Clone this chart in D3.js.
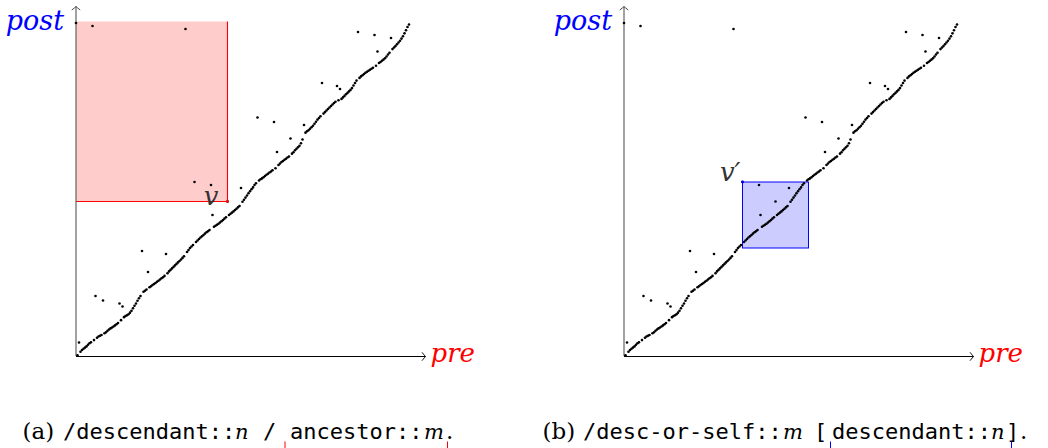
<!DOCTYPE html>
<html>
<head>
<meta charset="utf-8">
<script src="https://cdn.jsdelivr.net/npm/d3@7"></script>
<style>
  html, body { margin: 0; padding: 0; background: #fff; }
  svg { display: block; }
</style>
</head>
<body>
<svg id="chart" width="1048" height="448"></svg>
<script>
// ---------- DATA (pre/post ranks of the document nodes) ----------
// nodes lying along the diagonal (pre, post)
const diagPre = [1,3,4,5,6,7,8,9,10,12,14,15,16,17,19,20,21,22,23,24,25,26,27,28,30,32,33,34,35,36,37,38,39,40,41,42,43,45,46,47,49,50,51,52,53,54,55,56,57,58,59,61,62,63,64,65,66,67,68,69,70,71,72,74,75,76,77,78,80,81,82,83,84,85,86,87,88,89,92,93,94,95,96,97,98,99,100,102,103,104,105,106,107,108,109,111,112,113,114,115,116,117,118,119,120,122,123,124,125,126,127,128,129,130,131,133,135,136,137,138,139,140,141,142,144,145,146,147,148,149,150,151,153,154,155,156,157,158,159,160,161,162,163,165,166,167,168,169,170,171,172,173,175,177,178,179,180,181,182,183,184,185,186,187,189,190,191,192,193,194,195,196,197,198,200,202,203,204,205,206,207,208,209,211,212,213,214,215,216,217,218,219,220,221,222];
const diagPost = [0.5,2.8,4,4.8,5.6,6.4,7.5,8.5,9.2,10.6,12.2,13,13.5,14,15.2,15.8,16.8,17.7,18.4,19,19.7,20.4,21.2,22,23.9,25.9,26.7,27.2,27.8,28.9,30.2,31.8,33.5,35,36.8,38.5,40,42.8,43.5,44.3,45.8,46.5,47.3,48,48.7,49.5,50.2,51,51.8,52.5,53.4,55.2,56.4,57.4,58.4,59.4,60.4,61.4,62.4,63.3,64.3,65.4,66.5,69.3,70.6,72,73,74,76,77,78,79,79.8,80.7,81.6,82.5,83.2,84,86.2,86.8,87.5,88.2,89,89.8,90.7,91.6,92.5,94,94.8,95.6,96.4,97.3,98.2,99.1,100,102.8,104.2,105.6,107,108.5,109.8,111.2,112.4,114,115.2,117,117.8,118.4,119.2,120,120.8,121.5,122.3,123,123.8,125.2,127.3,128.3,129.3,130,130.8,131.5,132.3,133,134.9,135.8,137.2,138.2,139.2,140.2,141.8,144.3,148.9,149.8,150.5,151.5,152.5,153.5,154.8,156.2,157.6,158.7,159.8,161.6,162.6,163.7,164.7,165.7,166.7,167.7,168.7,169.5,170.5,171.4,172.4,173.4,174.5,175.4,176.4,177.4,178.6,180.3,182,183.6,185.4,186.4,187.2,188,188.8,189.5,190.2,190.8,191.5,192.2,193.5,195.3,196,196.8,197.6,198.5,199.7,201,202.2,204.6,205.7,206.6,207.8,209,210.2,211.6,213.2,215.1,217.2,219.3,221];
// nodes with larger subtrees (off the diagonal)
const innerPre  = [0,11,73,79,90,91,101,110,121,132,134,143,152,164,174,176,188,199,201,210,44,48,60,13,18,29,31,2];
const innerPost = [222,220,218,116,114,94,103,112,159,156,136,145,154,182,180,178,216,214,203,212,70,56,68,40,37,35,33,9];
// context nodes
const nodeV  = [101, 103];   // v  (panel a)
const nodeV2 = [79, 116];    // v' (panel b)
// query regions: [preFrom, preTo, postFrom, postTo]
const regionA = [0, 101, 103, 223];
const regionB = [79, 123, 72, 116];
const axisMax = 233;
// caption pieces: [text, style]
const captionA = [["(a)","rm"],["/descendant::","tt"],["n","it"],["/","tt"],["ancestor::","tt"],["m","it"],[".","rm"]];
const captionB = [["(b)","rm"],["/desc-or-self::","tt"],["m","it"],["[","tt"],["descendant::","tt"],["n","it"],["]","tt"],[".","rm"]];

// ---------- DRAWING ----------
const SERIF = "'DejaVu Serif', serif";
const MONO = "'DejaVu Sans Mono', monospace";
const svg = d3.select("#chart");
const x = d3.scaleLinear().domain([0, axisMax]).range([76, 425.5]);
const y = d3.scaleLinear().domain([0, axisMax]).range([356, 6.5]);

const diag = diagPre.map((p, i) => [p, diagPost[i]]);
const inner = innerPre.map((p, i) => [p, innerPost[i]]);
const allNodes = diag.concat(inner);

function panel(offset, opts) {
  const g = svg.append("g").attr("transform", `translate(${offset},0)`);
  const r = opts.region;
  g.append("rect")
    .attr("x", x(r[0])).attr("y", y(r[3]))
    .attr("width", x(r[1]) - x(r[0])).attr("height", y(r[2]) - y(r[3]))
    .attr("fill", opts.fill);
  if (opts.fullBorder) {
    g.append("rect")
      .attr("x", x(r[0])).attr("y", y(r[3]))
      .attr("width", x(r[1]) - x(r[0])).attr("height", y(r[2]) - y(r[3]))
      .attr("fill", "none").attr("stroke", opts.stroke).attr("stroke-width", 1);
  } else {
    g.append("path")
      .attr("d", `M${x(r[0])},${y(r[2])}H${x(r[1])}V${y(r[3])}`)
      .attr("fill", "none").attr("stroke", opts.stroke).attr("stroke-width", 1.1);
  }
  // axes
  g.append("line").attr("x1", x(0)).attr("x2", x(0)).attr("y1", y(0)).attr("y2", y(axisMax))
    .attr("stroke", "#555").attr("stroke-width", 1.1);
  g.append("line").attr("x1", x(0)).attr("x2", x(axisMax)).attr("y1", y(0) + 0.5).attr("y2", y(0) + 0.5)
    .attr("stroke", "#000").attr("stroke-width", 1);
  const ax = x(axisMax), ay = y(0) + 0.5;
  g.append("path")
    .attr("d", `M${ax-3.5},${ay-4.2} Q${ax-0.8},${ay-0.8} ${ax},${ay} Q${ax-0.8},${ay+0.8} ${ax-3.5},${ay+4.2}`)
    .attr("fill", "none").attr("stroke", "#000").attr("stroke-width", 0.9);
  const bx = x(0), by = y(axisMax);
  g.append("path")
    .attr("d", `M${bx-4.2},${by+3.5} Q${bx-0.8},${by+0.8} ${bx},${by} Q${bx+0.8},${by+0.8} ${bx+4.2},${by+3.5}`)
    .attr("fill", "none").attr("stroke", "#333").attr("stroke-width", 0.9);
  // axis labels
  g.append("text").attr("x", x(0) - 12).attr("y", 30).attr("text-anchor", "end")
    .style("font-family", SERIF).style("font-style", "italic").style("font-size", "27px")
    .attr("fill", "#0000ff").text("post");
  g.append("text").attr("x", x(axisMax) + 5).attr("y", 362).attr("text-anchor", "start")
    .style("font-family", SERIF).style("font-style", "italic").style("font-size", "26px")
    .attr("fill", "#ff0000").text("pre");
  // nodes
  g.append("g").selectAll("circle").data(allNodes).join("circle")
    .attr("cx", d => x(d[0])).attr("cy", d => y(d[1])).attr("r", 1.3).attr("fill", "#000");
  // context node
  g.append("circle").attr("cx", x(opts.ctx[0])).attr("cy", y(opts.ctx[1])).attr("r", 1.4).attr("fill", opts.stroke);
  g.append("text").attr("x", x(opts.ctx[0]) + opts.labelDx).attr("y", y(opts.ctx[1]) + opts.labelDy)
    .attr("text-anchor", "end")
    .style("font-family", SERIF).style("font-style", "italic").style("font-size", "26px")
    .attr("fill", "#333").text(opts.label);
}

panel(0, { region: regionA, fill: "#ffcccc", stroke: "#ff0000", fullBorder: false,
           ctx: nodeV, label: "v", labelDx: -9, labelDy: 3 });
panel(548, { region: regionB, fill: "#ccccff", stroke: "#0000ff", fullBorder: true,
             ctx: nodeV2, label: "v\u2032", labelDx: -2, labelDy: -1 });

// captions
const fontFor = {
  rm: { family: SERIF, style: "normal", size: 23 },
  tt: { family: MONO, style: "normal", size: 22 },
  it: { family: SERIF, style: "italic", size: 21 }
};
function caption(pieces, xs, baseline) {
  const t = svg.append("text").attr("y", baseline).attr("fill", "#000");
  pieces.forEach((p, i) => {
    const f = fontFor[p[1]];
    t.append("tspan").attr("x", xs[i])
      .style("font-family", f.family).style("font-style", f.style).style("font-size", f.size + "px")
      .text(p[0]);
  });
}
caption(captionA, [22.5, 63, 235, 263, 290, 424, 446], 439);
caption(captionB, [542.5, 583, 783, 814, 832, 991, 1006, 1020], 439);

// bracket ticks under the nested steps
[[285, "#ff0000"], [447.5, "#ff0000"], [830.5, "#0000ff"], [1011.5, "#0000ff"]].forEach(([tx, c]) => {
  svg.append("line").attr("x1", tx).attr("x2", tx).attr("y1", 441.5).attr("y2", 448)
    .attr("stroke", c).attr("stroke-width", 1);
});
</script>
</body>
</html>
